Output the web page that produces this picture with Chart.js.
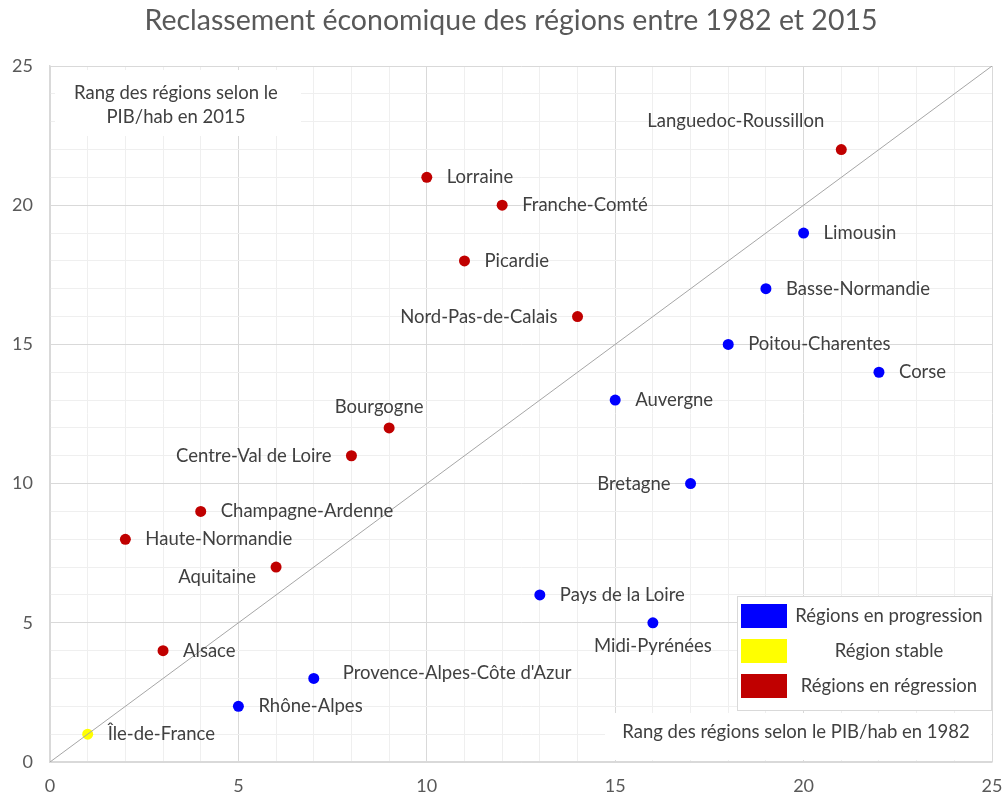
<!DOCTYPE html>
<html>
<head>
<meta charset="utf-8">
<script src="https://cdn.jsdelivr.net/npm/chart.js@4/dist/chart.umd.min.js"></script>
<style>
  html, body { margin: 0; padding: 0; background: #ffffff; }
  #wrap { width: 1006px; height: 800px; }
</style>
</head>
<body>
<div id="wrap"><canvas id="c" width="1006" height="800"></canvas></div>
<script>
// ---- Data ----
const chartTitle = 'Reclassement économique des régions entre 1982 et 2015';
const yAxisTitle = ['Rang des régions selon le', 'PIB/hab en 2015'];
const xAxisTitle = 'Rang des régions selon le PIB/hab en 1982';

const seriesNames = ['Régions en progression', 'Région stable', 'Régions en régression'];

const progRegions = ['Limousin', 'Basse-Normandie', 'Poitou-Charentes', 'Corse', 'Auvergne', 'Bretagne',
  'Pays de la Loire', 'Midi-Pyrénées', "Provence-Alpes-Côte d'Azur", 'Rhône-Alpes'];
const progRank1982 = [20, 19, 18, 22, 15, 17, 13, 16, 7, 5];
const progRank2015 = [19, 17, 15, 14, 13, 10, 6, 5, 3, 2];
const progPlace = ['r', 'r', 'r', 'r', 'r', 'l', 'r', 'b', 'tr', 'r'];

const stableRegions = ['Île-de-France'];
const stableRank1982 = [1];
const stableRank2015 = [1];
const stablePlace = ['r'];

const regRegions = ['Languedoc-Roussillon', 'Lorraine', 'Franche-Comté', 'Picardie', 'Nord-Pas-de-Calais',
  'Bourgogne', 'Centre-Val de Loire', 'Champagne-Ardenne', 'Haute-Normandie', 'Aquitaine', 'Alsace'];
const regRank1982 = [21, 10, 12, 11, 14, 9, 8, 4, 2, 6, 3];
const regRank2015 = [22, 21, 20, 18, 16, 12, 11, 9, 8, 7, 4];
const regPlace = ['tl', 'r', 'r', 'r', 'l', 't', 'l', 'r', 'r', 'bl', 'r'];

const diagonalX = [0, 25];
const diagonalY = [0, 25];

const axisMin = 0, axisMax = 25;
const xTickLabels = [0, 5, 10, 15, 20, 25];
const yTickLabels = [0, 5, 10, 15, 20, 25];

// ---- Styles ----
const FONT = 'Lato, "Open Sans", sans-serif';
const LABEL_SIZE = 18.5;
const colors = ['#0000ff', '#ffff00', '#c00000'];
const textGray = '#404040';
const tickGray = '#595959';

function pts(xs, ys) { return xs.map((x, i) => ({ x: x, y: ys[i] })); }

const placeOffsets = {
  r:  { dx: 20,  dy: 0,   align: 'left' },
  l:  { dx: -20, dy: 0,   align: 'right' },
  t:  { dx: -10, dy: -21, align: 'center' },
  b:  { dx: 0,   dy: 23,  align: 'center' },
  tr: { dx: 29,  dy: -5,  align: 'left' },
  tl: { dx: -17, dy: -28, align: 'right' },
  bl: { dx: -20, dy: 10,  align: 'right' }
};

const titlePlugin = {
  id: 'customTitle',
  afterDraw(chart) {
    const ctx = chart.ctx;
    ctx.save();
    ctx.font = '28.5px ' + FONT;
    ctx.fillStyle = tickGray;
    ctx.textAlign = 'center';
    ctx.textBaseline = 'middle';
    ctx.fillText(chartTitle, 511, 21);
    ctx.restore();
  }
};

const labelPlugin = {
  id: 'pointLabels',
  afterDatasetsDraw(chart) {
    const ctx = chart.ctx;
    ctx.save();
    ctx.font = LABEL_SIZE + 'px ' + FONT;
    ctx.fillStyle = textGray;
    ctx.textBaseline = 'middle';
    chart.data.datasets.forEach((ds, di) => {
      if (!ds.names) return;
      const meta = chart.getDatasetMeta(di);
      meta.data.forEach((el, i) => {
        const p = placeOffsets[ds.places[i]] || placeOffsets.r;
        ctx.textAlign = p.align;
        ctx.fillText(ds.names[i], el.x + p.dx, el.y + p.dy);
      });
    });
    ctx.restore();
  }
};

const boxesPlugin = {
  id: 'boxes',
  beforeDatasetsDraw(chart) {
    const ctx = chart.ctx;
    const a = chart.chartArea;
    ctx.save();
    // Y axis title box (top-left)
    ctx.fillStyle = '#ffffff';
    ctx.fillRect(a.left + 5, a.top + 4, 246, 66);
    ctx.fillStyle = textGray;
    ctx.font = LABEL_SIZE + 'px ' + FONT;
    ctx.textAlign = 'center';
    ctx.textBaseline = 'middle';
    ctx.fillText(yAxisTitle[0], a.left + 126, a.top + 27);
    ctx.fillText(yAxisTitle[1], a.left + 126, a.top + 51);
    // X axis title box (bottom-right)
    ctx.fillStyle = '#ffffff';
    ctx.fillRect(a.right - 387, a.bottom - 49, 386, 47);
    ctx.fillStyle = textGray;
    ctx.fillText(xAxisTitle, a.right - 196, a.bottom - 30);
    // Legend box
    const lx = a.right - 255, ly = a.bottom - 166, lw = 255, lh = 115;
    ctx.fillStyle = '#ffffff';
    ctx.fillRect(lx, ly, lw, lh);
    ctx.strokeStyle = '#d9d9d9';
    ctx.lineWidth = 1;
    ctx.strokeRect(lx + 0.5, ly + 0.5, lw - 1, lh - 1);
    const legendSets = chart.data.datasets.filter(d => d.names);
    legendSets.forEach((d, i) => {
      const cy = ly + 20 + i * 35;
      ctx.fillStyle = d.backgroundColor;
      ctx.fillRect(lx + 4, cy - 12, 46, 24);
      ctx.fillStyle = textGray;
      ctx.textAlign = 'center';
      ctx.fillText(d.label, lx + 152, cy);
    });
    ctx.restore();
  }
};

const gridColor = (ctx) => (ctx.tick && ctx.tick.value % 5 === 0) ? '#d9d9d9' : '#efefef';

new Chart(document.getElementById('c'), {
  type: 'scatter',
  data: {
    datasets: [
      {
        label: 'diagonale',
        data: pts(diagonalX, diagonalY),
        showLine: true,
        borderColor: '#a6a6a6',
        borderWidth: 1,
        pointRadius: 0,
        pointHoverRadius: 0
      },
      {
        label: seriesNames[0],
        names: progRegions, places: progPlace,
        data: pts(progRank1982, progRank2015),
        backgroundColor: colors[0], borderColor: colors[0],
        pointRadius: 5.5, borderWidth: 0
      },
      {
        label: seriesNames[1],
        names: stableRegions, places: stablePlace,
        data: pts(stableRank1982, stableRank2015),
        backgroundColor: colors[1], borderColor: colors[1],
        pointRadius: 5.5, borderWidth: 0
      },
      {
        label: seriesNames[2],
        names: regRegions, places: regPlace,
        data: pts(regRank1982, regRank2015),
        backgroundColor: colors[2], borderColor: colors[2],
        pointRadius: 5.5, borderWidth: 0
      }
    ]
  },
  options: {
    responsive: false,
    animation: false,
    events: [],
    layout: { padding: { left: 0, right: 14, top: 66, bottom: 0 } },
    plugins: {
      legend: { display: false },
      tooltip: { enabled: false },
      title: { display: false }
    },
    scales: {
      x: {
        type: 'linear',
        min: axisMin, max: axisMax,
        ticks: {
          stepSize: 1,
          autoSkip: false,
          maxRotation: 0,
          color: tickGray,
          font: { family: FONT, size: 18 },
          padding: 13,
          callback: (v) => xTickLabels.includes(v) ? String(v) : ''
        },
        grid: { color: gridColor, drawTicks: false },
        border: { color: '#d9d9d9', width: 1.5 },
        afterFit(scale) { scale.height = 38; scale.paddingLeft = 0; scale.paddingRight = 0; }
      },
      y: {
        type: 'linear',
        min: axisMin, max: axisMax,
        ticks: {
          stepSize: 1,
          autoSkip: false,
          color: tickGray,
          font: { family: FONT, size: 18 },
          padding: 17,
          callback: (v) => yTickLabels.includes(v) ? String(v) : ''
        },
        grid: { color: gridColor, drawTicks: false },
        border: { color: '#d9d9d9', width: 1.5 },
        afterFit(scale) { scale.width = 50; scale.paddingTop = 0; scale.paddingBottom = 0; }
      }
    }
  },
  plugins: [boxesPlugin, labelPlugin, titlePlugin]
});
</script>
</body>
</html>
